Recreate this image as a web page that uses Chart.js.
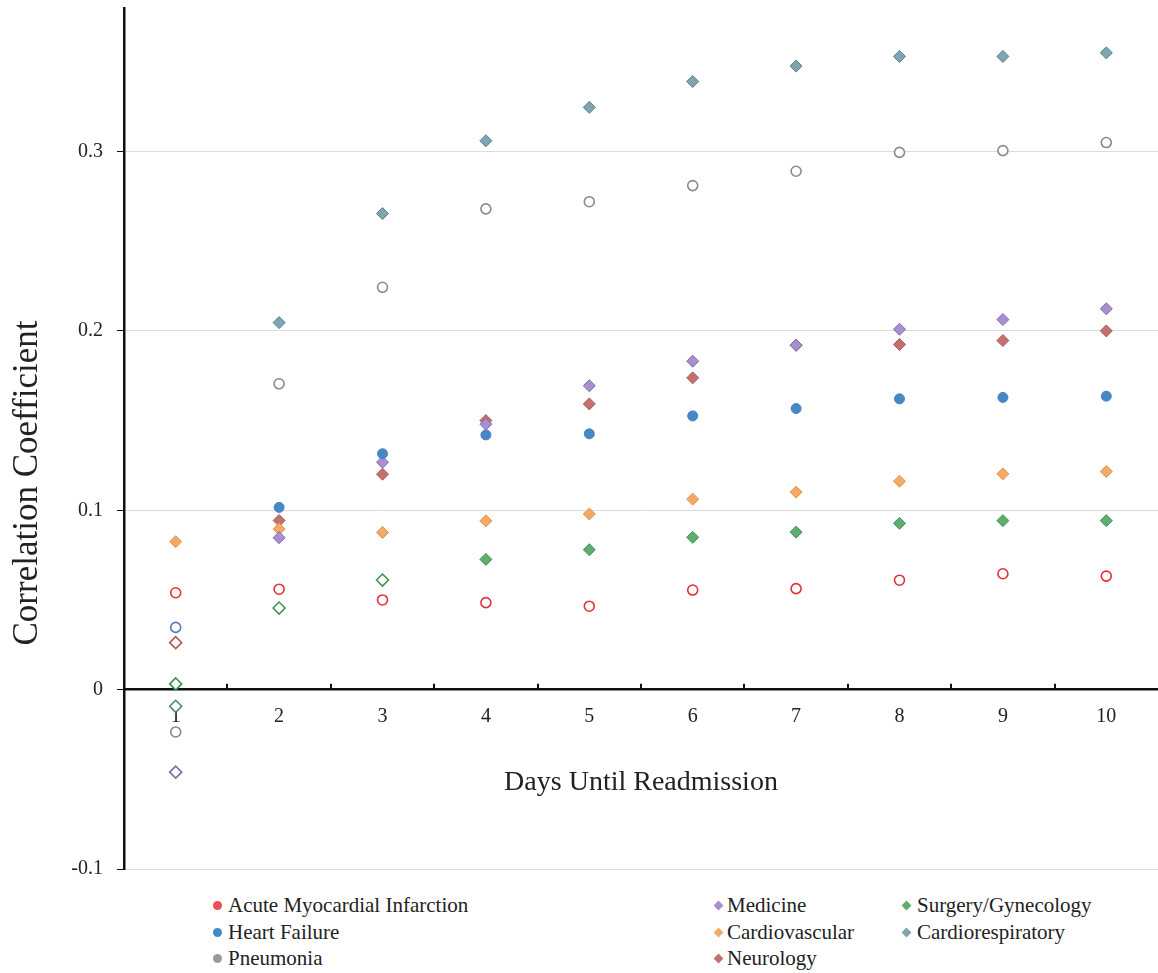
<!DOCTYPE html>
<html>
<head>
<meta charset="utf-8">
<title>Correlation Coefficient by Days Until Readmission</title>
<script src="https://cdn.jsdelivr.net/npm/chart.js@4.4.1/dist/chart.umd.min.js"></script>
<style>
    body { margin: 0; background: #fff; }
    #wrap { position: relative; width: 1158px; height: 973px; font-family: "Liberation Serif", "Times New Roman", serif; }
    #chart { position: absolute; left: 0; top: 0; }
    .legend-item { position: absolute; font-size: 21px; color: #222; line-height: 24px; white-space: nowrap; }
    .legend-item .mark { position: absolute; top: 8px; width: 9px; height: 9px; }
</style>
</head>
<body>
<div id="wrap">
    <canvas id="chart" width="1158" height="880"></canvas>
    <div id="legend"></div>
</div>
<script>
var days = ['1', '2', '3', '4', '5', '6', '7', '8', '9', '10'];
var yTicks = [0.3, 0.2, 0.1, 0, -0.1];

// correlation per day
var acuteMyocardialInfarction = [0.054, 0.056, 0.050, 0.0485, 0.0465, 0.0555, 0.0563, 0.061, 0.0646, 0.0633];
var heartFailure = [0.0347, 0.1016, 0.1315, 0.142, 0.1426, 0.1526, 0.1567, 0.1621, 0.1629, 0.1636];
var pneumonia = [-0.0236, 0.1705, 0.2243, 0.268, 0.272, 0.281, 0.289, 0.2995, 0.3005, 0.305];
var medicine = [-0.046, 0.0847, 0.1268, 0.148, 0.1694, 0.1831, 0.192, 0.2009, 0.2063, 0.2123];
var surgeryGynecology = [0.0032, 0.0455, 0.0611, 0.0726, 0.078, 0.0849, 0.0878, 0.0927, 0.0942, 0.0942];
var cardiovascular = [0.0825, 0.0895, 0.0876, 0.0941, 0.0979, 0.1062, 0.1101, 0.1162, 0.1203, 0.1216];
var cardiorespiratory = [-0.0093, 0.2046, 0.2654, 0.306, 0.3246, 0.339, 0.3476, 0.353, 0.353, 0.355];
var neurology = [0.0262, 0.0943, 0.1201, 0.150, 0.1593, 0.1738, 0.192, 0.1924, 0.1946, 0.200];

// filled marker = true, open marker = false
var amiFilled = [false, false, false, false, false, false, false, false, false, false];
var hfFilled = [false, true, true, true, true, true, true, true, true, true];
var pneumoniaFilled = [false, false, false, false, false, false, false, false, false, false];
var medicineFilled = [false, true, true, true, true, true, true, true, true, true];
var surgeryFilled = [false, false, false, true, true, true, true, true, true, true];
var cardiovascularFilled = [true, true, true, true, true, true, true, true, true, true];
var cardiorespFilled = [false, true, true, true, true, true, true, true, true, true];
var neurologyFilled = [false, true, true, true, true, true, true, true, true, true];

var series = [
    { label: 'Acute Myocardial Infarction', data: acuteMyocardialInfarction, filled: amiFilled, shape: 'circle', fill: '#ee4d55', line: '#e0303a', col: 0 },
    { label: 'Heart Failure', data: heartFailure, filled: hfFilled, shape: 'circle', fill: '#4389c8', line: '#4f7fbf', col: 0 },
    { label: 'Pneumonia', data: pneumonia, filled: pneumoniaFilled, shape: 'circle', fill: '#9a9a9a', line: '#8a8a8a', col: 0 },
    { label: 'Medicine', data: medicine, filled: medicineFilled, shape: 'rectRot', fill: '#a88fcf', line: '#7f6ab6', col: 1 },
    { label: 'Cardiovascular', data: cardiovascular, filled: cardiovascularFilled, shape: 'rectRot', fill: '#f2aa66', line: '#df9350', col: 1 },
    { label: 'Neurology', data: neurology, filled: neurologyFilled, shape: 'rectRot', fill: '#c4706f', line: '#b05a5a', col: 1 },
    { label: 'Surgery/Gynecology', data: surgeryGynecology, filled: surgeryFilled, shape: 'rectRot', fill: '#5fae70', line: '#3f9252', col: 2 },
    { label: 'Cardiorespiratory', data: cardiorespiratory, filled: cardiorespFilled, shape: 'rectRot', fill: '#7fa5b0', line: '#52808c', col: 2 }
];

var legendX = [[213, 228], [715, 727], [903, 917]];
var legendTop = 893;
var legendRow = 26.5;

function buildDataset(s) {
    return {
        label: s.label,
        data: s.data,
        showLine: false,
        pointStyle: s.shape,
        pointRadius: s.shape === 'circle' ? 5 : 6,
        pointBackgroundColor: s.filled.map(function (f) { return f ? s.fill : '#ffffff'; }),
        pointBorderColor: s.line,
        pointBorderWidth: s.filled.map(function (f) { return f ? 1 : 1.6; })
    };
}

var axisTicksUp = {
    id: 'axisTicksUp',
    afterDraw: function (chart) {
        var ctx = chart.ctx;
        var x = chart.scales.x;
        var y0 = chart.scales.y.getPixelForValue(0);
        var half = (x.getPixelForValue(1) - x.getPixelForValue(0)) / 2;
        ctx.save();
        ctx.strokeStyle = '#111';
        ctx.lineWidth = 2;
        for (var i = 1; i < days.length; i++) {
            var px = Math.round(x.getPixelForValue(i) - half);
            ctx.beginPath();
            ctx.moveTo(px, y0 - 6);
            ctx.lineTo(px, y0);
            ctx.stroke();
        }
        ctx.restore();
    }
};

var yTitle = {
    id: 'yTitle',
    afterDraw: function (chart) {
        var ctx = chart.ctx;
        ctx.save();
        ctx.translate(28, 483);
        ctx.rotate(-Math.PI / 2);
        ctx.textAlign = 'center';
        ctx.textBaseline = 'middle';
        ctx.fillStyle = '#222';
        ctx.font = '35px "Liberation Serif", "Times New Roman", serif';
        ctx.fillText('Correlation Coefficient', 0, 0);
        ctx.restore();
    }
};

Chart.defaults.font.family = '"Liberation Serif", "Times New Roman", serif';
Chart.defaults.color = '#222';

var chart = new Chart(document.getElementById('chart'), {
    type: 'line',
    data: {
        labels: days,
        datasets: series.map(buildDataset)
    },
    options: {
        responsive: false,
        animation: false,
        layout: { autoPadding: false, padding: { left: 0, right: 0, top: 8, bottom: 11 } },
        plugins: {
            legend: { display: false },
            tooltip: { enabled: false }
        },
        scales: {
            x: {
                type: 'category',
                offset: true,
                position: { y: 0 },
                afterFit: function (scale) {
                    scale.paddingLeft = 0;
                    scale.paddingRight = 0;
                },
                grid: { display: false, drawTicks: false },
                border: { display: true, color: '#111', width: 2.5 },
                ticks: { font: { size: 20 }, padding: 15, maxRotation: 0, color: '#222' },
                title: {
                    display: true,
                    text: 'Days Until Readmission',
                    font: { size: 28 },
                    color: '#222',
                    padding: { top: 22, bottom: 0 }
                }
            },
            y: {
                min: -0.1,
                max: 0.38,
                afterBuildTicks: function (scale) {
                    scale.ticks = yTicks.map(function (v) { return { value: v }; });
                },
                afterFit: function (scale) {
                    scale.width = 124;
                    scale.paddingTop = 0;
                    scale.paddingBottom = 0;
                },
                grid: {
                    color: function (c) { return c.tick && c.tick.value === 0 ? 'rgba(0,0,0,0)' : '#dcdcdc'; },
                    tickColor: '#111',
                    tickLength: 7,
                    lineWidth: 1
                },
                border: { display: true, color: '#111', width: 2.5 },
                ticks: {
                    font: { size: 20 },
                    padding: 14,
                    color: '#222',
                    callback: function (v) { return String(Math.round(v * 10) / 10); }
                }
            }
        }
    },
    plugins: [axisTicksUp, yTitle]
});

// legend laid out in columns like the original figure
var legend = document.getElementById('legend');
var rows = [0, 0, 0];
series.forEach(function (s) {
    var item = document.createElement('div');
    item.className = 'legend-item';
    var row = rows[s.col]++;
    var top = legendTop + row * legendRow;
    item.style.left = legendX[s.col][1] + 'px';
    item.style.top = top + 'px';
    var mark = document.createElement('span');
    mark.className = 'mark';
    mark.style.left = (legendX[s.col][0] - legendX[s.col][1]) + 'px';
    mark.style.background = s.fill;
    if (s.shape === 'circle') {
        mark.style.borderRadius = '50%';
    } else {
        mark.style.width = '7px';
        mark.style.height = '7px';
        mark.style.top = '9px';
        mark.style.transform = 'rotate(45deg)';
    }
    item.appendChild(mark);
    item.appendChild(document.createTextNode(s.label));
    legend.appendChild(item);
});
</script>
</body>
</html>
